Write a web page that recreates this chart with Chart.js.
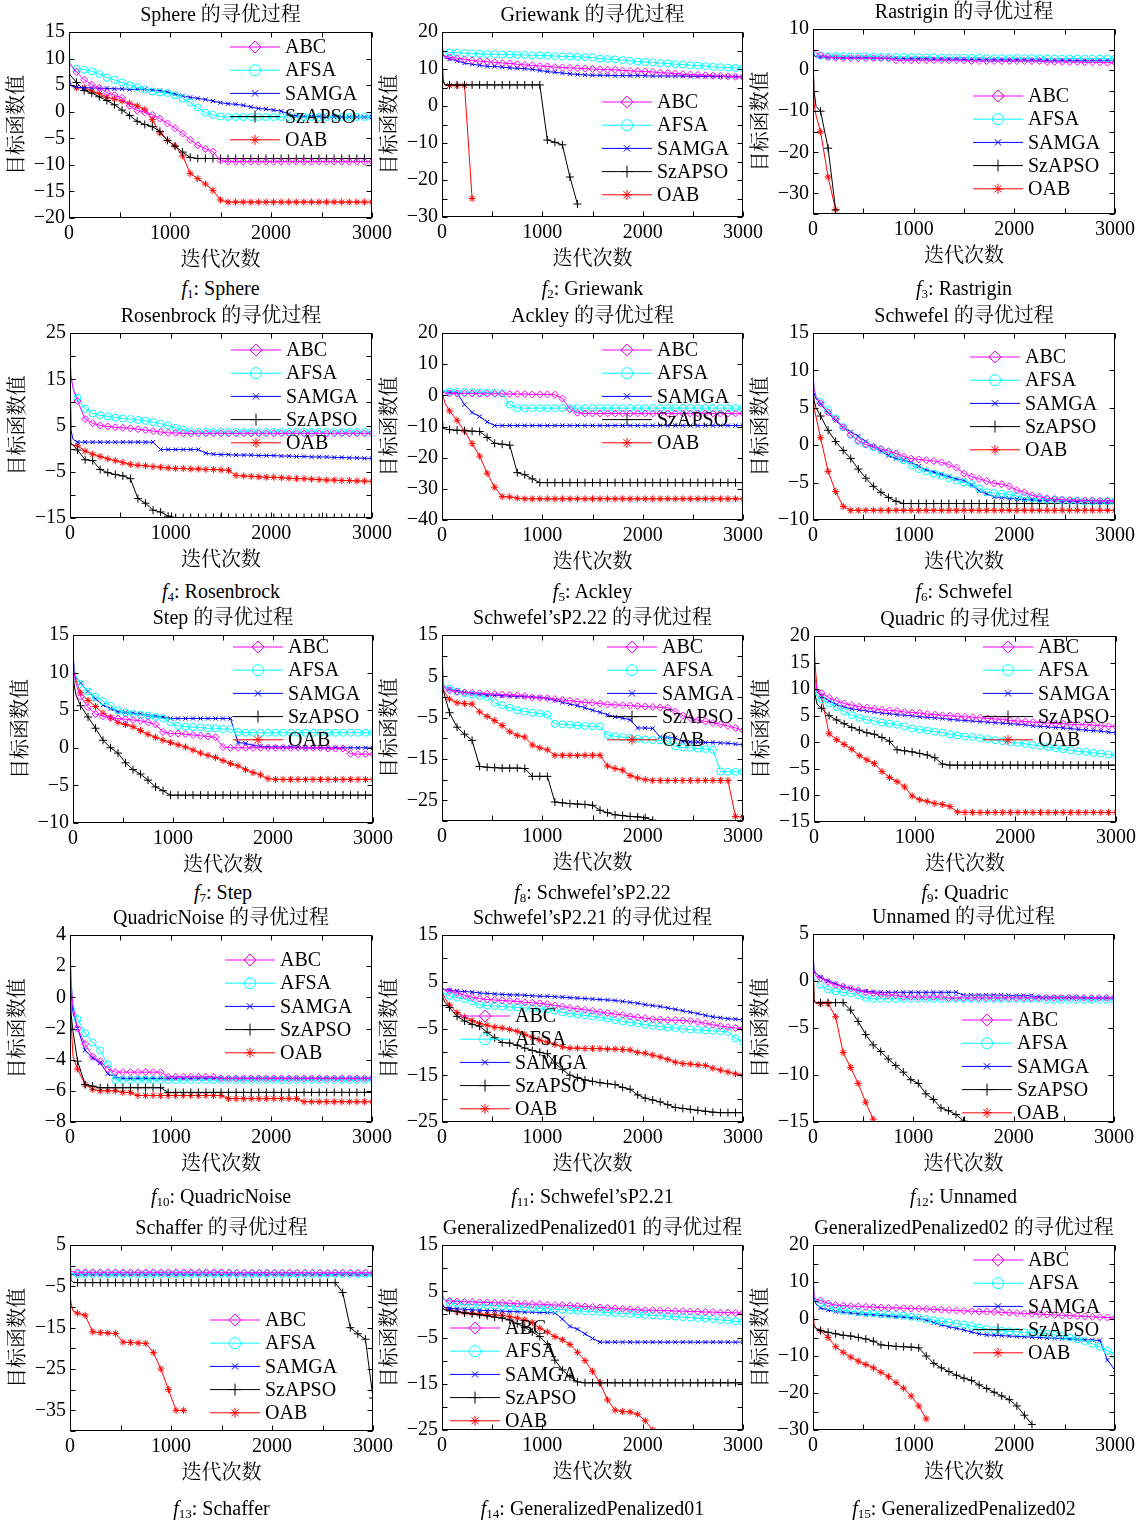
<!DOCTYPE html>
<html lang="zh">
<head>
<meta charset="UTF-8" />
<title>寻优过程</title>
<script src="https://cdn.jsdelivr.net/npm/chart.js"></script>
<style>
  body { margin: 0; background: #fff; }
  #page { position: relative; width: 1144px; height: 1521px; overflow: hidden; background: #fff; }
  canvas { position: absolute; }
  .cap {
    position: absolute; width: 400px; text-align: center;
    font-family: 'Liberation Serif', 'Times New Roman', serif; font-size: 20px; line-height: 24px; color: #000;
  }
  .cap sub { font-size: 13px; vertical-align: -3px; line-height: 0; }
</style>
</head>
<body>
<div id="page"></div>
<script>
// iteration numbers where values were read
const iters = [0, 10, 30,
  75, 150, 225, 300, 375, 450, 525, 600, 675, 750,
  825, 900, 975, 1050, 1125, 1200, 1275, 1350, 1425, 1500,
  1575, 1650, 1725, 1800, 1875, 1950, 2025, 2100, 2175, 2250,
  2325, 2400, 2475, 2550, 2625, 2700, 2775, 2850, 2925, 3000];

const seriesNames = ['ABC', 'AFSA', 'SAMGA', 'SzAPSO', 'OAB'];

// f1 Sphere
const sphABC = [10, 9, 8.5,
  7.5, 6, 5.1, 4.5, 3.6, 3.1, 2.6, 1.1, 0.2, -0.1,
  -0.6, -1.3, -2.2, -3.1, -4.1, -5.3, -6.3, -7.0, -7.5, -9.2,
  -9.4, -9.4, -9.4, -9.4, -9.4, -9.4, -9.4, -9.4, -9.4, -9.4,
  -9.4, -9.4, -9.4, -9.4, -9.4, -9.4, -9.4, -9.4, -9.4, -9.4];
const sphAFSA = [12.8, 9, 8.4,
  8.1, 7.9, 7.6, 7.1, 6.4, 6, 5.5, 5, 4.6, 4.2,
  3.8, 3.6, 3.5, 3.1, 2.5, 1.7, 0.8, -0.2, -0.6, -0.9,
  -1, -1, -1, -1, -1, -1, -1, -1, -1, -1,
  -1, -1, -1, -1, -1, -1, -1, -1, -1, -1];
const sphSAMGA = [8, 5.5, 4.8,
  4.6, 4.5, 4.5, 4.4, 4.4, 4.3, 4.3, 4.2, 4.2, 4.2,
  4.1, 4.0, 3.7, 3.3, 3.0, 2.7, 2.5, 2.3, 2.0, 1.7,
  1.5, 1.4, 1.2, 0.9, 0.6, 0.5, 0.3, 0.1, -0.4, -0.8,
  -0.9, -0.9, -0.9, -1, -1, -1, -1, -1, -1, -1];
const sphSzAPSO = [8, 7, 6.5,
  5.5, 4, 3.5, 2.8, 2.1, 1.3, 0.3, -0.7, -1.8, -2.4,
  -2.8, -3.7, -5.4, -6.5, -7.6, -8.6, -8.8, -8.8, -8.8, -8.8,
  -8.8, -8.8, -8.8, -8.8, -8.8, -8.8, -8.8, -8.8, -8.8, -8.8,
  -8.8, -8.8, -8.8, -8.8, -8.8, -8.8, -8.8, -8.8, -8.8, -8.8];
const sphOAB = [5.5, 5, 4.8,
  4.5, 4.5, 3.9, 3.4, 2.7, 2.4, 2.0, 1.6, 1.1, 0.4,
  -1.5, -4, -5.4, -6.4, -8.3, -11.6, -12.6, -13.6, -14.8, -16.6,
  -17, -17, -17, -17, -17, -17, -17, -17, -17, -17,
  -17, -17, -17, -17, -17, -17, -17, -17, -17, -17];

// f2 Griewank
const grwABC = [15, 14, 13.5,
  13.2, 12.9, 12.6, 12.3, 12.1, 12, 11.8, 11.6, 11.5, 11.3,
  11.1, 11, 10.8, 10.7, 10.5, 10.4, 10.3, 10.2, 10.1, 10,
  9.9, 9.8, 9.8, 9.6, 9.5, 9.4, 9.3, 9.2, 9.0, 8.9,
  8.8, 8.6, 8.5, 8.4, 8.3, 8.2, 8.1, 8.0, 7.9, 7.8];
const grwAFSA = [17, 15, 14.6,
  14.5, 14.4, 14.3, 14.2, 14.1, 14, 14, 13.9, 13.9, 13.8,
  13.8, 13.7, 13.7, 13.6, 13.5, 13.4, 13.4, 13.3, 13.2, 13.1,
  12.8, 12.7, 12.6, 12.4, 12.2, 12.0, 11.9, 11.8, 11.6, 11.5,
  11.3, 11.2, 11.0, 10.9, 10.8, 10.6, 10.5, 10.4, 10.3, 10.2];
const grwSAMGA = [18, 14, 13,
  12.7, 12.2, 11.6, 11.3, 11, 10.7, 10.7, 10.5, 10.3, 10.2,
  10.1, 9.9, 9.6, 9.3, 9.1, 8.9, 8.7, 8.5, 8.4, 8.3,
  8.3, 8.3, 8.2, 8.2, 8.2, 8.2, 8.2, 8.1, 8.1, 8.1,
  8.1, 8.1, 8.0, 8.0, 8.0, 8.0, 8.0, 7.9, 7.9, 7.9];
const grwSzAPSO = [14, 7, 5.7,
  5.7, 5.7, 5.7, 5.7, 5.7, 5.7, 5.7, 5.7, 5.7, 5.7,
  5.7, 5.7, 5.7, -9.2, -9.8, -10.5, -19.2, -26.5, null, null,
  null, null, null, null, null, null, null, null, null, null,
  null, null, null, null, null, null, null, null, null, null];
const grwOAB = [16, 6.5, 5.6,
  5.5, 5.5, 5.5, -25, null, null, null, null, null, null,
  null, null, null, null, null, null, null, null, null, null,
  null, null, null, null, null, null, null, null, null, null,
  null, null, null, null, null, null, null, null, null, null];

// f3 Rastrigin
const rasABC = [5.5, 4.8, 4.3,
  3.6, 3.2, 3.0, 2.9, 2.9, 2.9, 2.9, 2.9, 2.9, 2.9,
  2.4, 2.4, 2.4, 2.4, 2.4, 2.4, 2.4, 2.4, 2.4, 2.4,
  2.2, 2.2, 2.2, 2.2, 2.2, 2.2, 2.2, 2.2, 2.2, 2.2,
  2.0, 2.0, 2.0, 2.0, 2.0, 1.9, 1.9, 1.9, 1.8, 1.8];
const rasAFSA = [5, 4, 3.6,
  3.5, 3.4, 3.4, 3.4, 3.3, 3.3, 3.3, 3.3, 3.2, 3.2,
  3.2, 3.2, 3.1, 3.1, 3.1, 3.1, 3.0, 3.0, 3.0, 3.0,
  3.0, 3.0, 2.9, 2.9, 2.9, 2.9, 2.9, 2.9, 2.9, 2.9,
  2.8, 2.8, 2.8, 2.8, 2.8, 2.8, 2.8, 2.8, 2.8, 2.8];
const rasSAMGA = [6, 3.6, 3.2,
  3.2, 3.1, 3.1, 3.0, 3.0, 3.0, 3.0, 2.9, 2.9, 2.9,
  2.9, 2.8, 2.8, 2.8, 2.8, 2.7, 2.7, 2.7, 2.7, 2.6,
  2.6, 2.6, 2.6, 2.5, 2.5, 2.5, 2.5, 2.5, 2.4, 2.4,
  2.4, 2.4, 2.4, 2.4, 2.3, 2.3, 2.3, 2.3, 2.3, 2.3];
const rasSzAPSO = [5, -5, -8.8,
  -10, -19, -34, null, null, null, null, null, null, null,
  null, null, null, null, null, null, null, null, null, null,
  null, null, null, null, null, null, null, null, null, null,
  null, null, null, null, null, null, null, null, null, null];
const rasOAB = [5, -8, -11,
  -15, -26, -34, null, null, null, null, null, null, null,
  null, null, null, null, null, null, null, null, null, null,
  null, null, null, null, null, null, null, null, null, null,
  null, null, null, null, null, null, null, null, null, null];

// f4 Rosenbrock
const rosABC = [20, 16, 13,
  10.3, 6.4, 5.5, 5.0, 4.8, 4.6, 4.5, 4.4, 4.2, 4.0,
  3.8, 3.6, 3.4, 3.4, 3.3, 3.3, 3.3, 3.3, 3.3, 3.3,
  3.3, 3.3, 3.3, 3.3, 3.3, 3.3, 3.3, 3.3, 3.3, 3.3,
  3.3, 3.3, 3.3, 3.3, 3.3, 3.3, 3.3, 3.3, 3.3, 3.3];
const rosAFSA = [22, 15, 13,
  11, 8.6, 7.6, 7.2, 7.0, 6.7, 6.5, 6.4, 6.2, 6.0,
  5.7, 5.4, 5.0, 4.5, 4.1, 3.7, 3.6, 3.6, 3.6, 3.6,
  3.6, 3.6, 3.6, 3.6, 3.6, 3.6, 3.6, 3.6, 3.6, 3.6,
  3.6, 3.6, 3.6, 3.6, 3.6, 3.6, 3.6, 3.6, 3.6, 3.6];
const rosSAMGA = [18, 4, 2,
  1.4, 1.4, 1.4, 1.4, 1.4, 1.4, 1.4, 1.4, 1.4, 1.4,
  1.4, -0.2, -0.2, -0.2, -0.2, -0.2, -0.2, -1.0, -1.2, -1.3,
  -1.3, -1.4, -1.4, -1.4, -1.5, -1.5, -1.5, -1.6, -1.6, -1.7,
  -1.7, -1.8, -1.8, -1.8, -1.9, -1.9, -2.0, -2.0, -2.1, -2.1];
const rosSzAPSO = [1, 1, 0.8,
  -0.3, -2.4, -2.6, -4.5, -5.2, -5.6, -5.9, -6.5, -10.8, -11.8,
  -13.3, -13.7, -14.6, -14.9, -14.9, -14.9, -14.9, -14.9, -14.9, -14.9,
  -14.9, -14.9, -14.9, -14.9, -14.9, -14.9, -14.9, -14.9, -14.9, -14.9,
  -14.9, -14.9, -14.9, -14.9, -14.9, -14.9, -14.9, -14.9, -14.9, -14.9];
const rosOAB = [20, 1, 0.8,
  0.6, -0.5, -1.2, -1.7, -2.2, -2.6, -3.0, -3.4, -3.6, -3.7,
  -3.9, -4.0, -4.2, -4.3, -4.3, -4.4, -4.4, -4.5, -4.5, -4.6,
  -4.7, -5.8, -5.9, -6.0, -6.1, -6.2, -6.2, -6.3, -6.4, -6.5,
  -6.5, -6.6, -6.7, -6.8, -6.8, -6.9, -6.9, -7.0, -7.0, -7.1];

// f5 Ackley
const ackABC = [2, 1, 0.7,
  0.6, 0.6, 0.6, 0.6, 0.5, 0.5, 0.5, 0.5, 0.4, 0.4,
  0.4, 0.3, 0.3, 0.3, 0.2, -1.0, -4.5, -5.6, -5.8, -5.8,
  -5.8, -5.8, -5.8, -5.8, -5.8, -5.8, -5.8, -5.8, -5.8, -5.8,
  -5.8, -5.8, -5.8, -5.8, -5.8, -5.8, -5.8, -5.8, -5.8, -5.8];
const ackAFSA = [2, 1.5, 1.3,
  1.2, 1.1, 1.0, 1.0, 0.9, 0.9, 0.8, 0.7, -3, -4.1,
  -4.1, -4.1, -4.1, -4.1, -4.1, -4.1, -4.1, -4.1, -4.1, -4.1,
  -4.1, -4.1, -4.1, -4.1, -4.1, -4.1, -4.1, -4.1, -4.1, -4.1,
  -4.1, -4.1, -4.1, -4.1, -4.1, -4.1, -4.1, -4.1, -4.1, -4.1];
const ackSAMGA = [2, 1.5, 1.2,
  1, 0.8, -3.0, -5.5, -6.8, -8.5, -9.7, -9.7, -9.7, -9.7,
  -9.7, -9.7, -9.7, -9.7, -9.7, -9.7, -9.7, -9.7, -9.7, -9.7,
  -9.7, -9.7, -9.7, -9.7, -9.7, -9.7, -9.7, -9.7, -9.7, -9.7,
  -9.7, -9.7, -9.7, -9.7, -9.7, -9.7, -9.7, -9.7, -9.7, -9.7];
const ackSzAPSO = [-5, -10.5, -10.8,
  -11, -11.2, -11.3, -11.5, -11.6, -13.5, -15.4, -15.7, -16, -24.8,
  -25.5, -26.8, -28, -28, -28, -28, -28, -28, -28, -28,
  -28, -28, -28, -28, -28, -28, -28, -28, -28, -28,
  -28, -28, -28, -28, -28, -28, -28, -28, -28, -28];
const ackOAB = [2, 0, -2.5,
  -5, -8, -11.5, -15.5, -19.5, -25, -29.5, -32.5, -32.6, -33,
  -33.2, -33.2, -33.2, -33.2, -33.2, -33.2, -33.2, -33.2, -33.2, -33.2,
  -33.2, -33.2, -33.2, -33.2, -33.2, -33.2, -33.2, -33.2, -33.2, -33.2,
  -33.2, -33.2, -33.2, -33.2, -33.2, -33.2, -33.2, -33.2, -33.2, -33.2];

// f6 Schwefel
const schABC = [10, 7.5, 6.5,
  5.6, 4.4, 3.5, 2.4, 1.4, 0.6, 0.1, -0.2, -0.5, -0.8,
  -1.1, -1.5, -1.8, -1.9, -2.0, -2.1, -2.3, -2.6, -3.0, -3.8,
  -4.2, -4.5, -4.8, -5.1, -5.2, -5.5, -6.0, -6.3, -6.7, -6.9,
  -7.1, -7.2, -7.3, -7.35, -7.4, -7.4, -7.4, -7.45, -7.45, -7.45];
const schAFSA = [10, 7.5, 6.5,
  5.8, 4.7, 3.6, 2.4, 1.4, 0.6, 0.1, -0.3, -0.6, -1.0,
  -1.5, -2.0, -2.7, -3.2, -3.5, -3.8, -4.1, -4.4, -4.7, -5.0,
  -5.2, -5.8, -6.3, -6.4, -6.5, -6.6, -6.8, -7.0, -7.1, -7.2,
  -7.3, -7.3, -7.4, -7.4, -7.4, -7.5, -7.5, -7.5, -7.5, -7.5];
const schSAMGA = [10, 7, 6.2,
  5.5, 4.3, 3.3, 2.4, 1.8, 1.2, 0.5, -0.2, -0.8, -1.4,
  -1.8, -2.0, -2.3, -2.8, -3.3, -3.6, -3.9, -4.2, -4.5, -4.7,
  -5.3, -6.1, -6.5, -6.9, -7.0, -7.1, -7.2, -7.3, -7.3, -7.4,
  -7.4, -7.4, -7.5, -7.5, -7.5, -7.5, -7.6, -7.6, -7.6, -7.6];
const schSzAPSO = [8, 6, 5,
  3.9, 2.0, 0.5, -0.7, -1.8, -3.2, -4.4, -5.5, -6.3, -7.0,
  -7.5, -7.8, -7.8, -7.8, -7.8, -7.8, -7.8, -7.8, -7.8, -7.8,
  -7.8, -7.8, -7.8, -7.8, -7.8, -7.8, -7.8, -7.8, -7.8, -7.8,
  -7.8, -7.8, -7.8, -7.8, -7.8, -7.8, -7.8, -7.8, -7.8, -7.8];
const schOAB = [10, 5, 3.8,
  1, -3.5, -6.2, -8.2, -8.7, -8.7, -8.7, -8.7, -8.7, -8.7,
  -8.7, -8.7, -8.7, -8.7, -8.7, -8.7, -8.7, -8.7, -8.7, -8.7,
  -8.7, -8.7, -8.7, -8.7, -8.7, -8.7, -8.7, -8.7, -8.7, -8.7,
  -8.7, -8.7, -8.7, -8.7, -8.7, -8.7, -8.7, -8.7, -8.7, -8.7];

// f7 Step
const stpABC = [13, 10, 8.5,
  6.8, 5.4, 4.5, 4.2, 4.0, 3.9, 3.8, 3.7, 3.6, 3.4,
  3.1, 2.1, 1.9, 1.9, 1.8, 1.7, 1.6, 1.5, 1.4, 0.1,
  0, 0, 0, 0, 0, 0, 0, 0, 0, 0,
  0, 0, 0, -0.1, -0.1, -0.1, -0.8, -0.85, -0.85, -0.85];
const stpAFSA = [13, 10.5, 9.5,
  8.5, 7.5, 6.8, 6.2, 5.6, 5.0, 4.7, 4.5, 4.4, 4.3,
  4.1, 3.9, 3.4, 2.9, 2.8, 2.75, 2.7, 2.6, 2.6, 2.5,
  2.5, 2.1, 2.0, 2.0, 2.0, 2.0, 2.0, 2.0, 2.0, 2.0,
  2.0, 2.0, 2.0, 2.0, 2.0, 2.0, 2.0, 2.0, 2.0, 2.0];
const stpSAMGA = [13, 10.5, 9.3,
  8.6, 7.5, 6.5, 5.7, 5.2, 4.8, 4.7, 4.6, 4.5, 4.3,
  4.2, 4.1, 3.9, 3.9, 3.9, 3.9, 3.9, 3.9, 3.9, 3.9,
  3.9, 0.7, 0.6, 0.3, 0.2, 0.1, 0.1, 0.1, 0.1, 0.1,
  0, 0, 0, 0, 0, 0, 0, 0, 0, 0];
const stpSzAPSO = [11, 8.5, 7,
  5.6, 4.1, 2.6, 1.0, 0, -0.7, -2.0, -2.9, -3.5, -4.3,
  -5.2, -5.7, -6.3, -6.3, -6.3, -6.3, -6.3, -6.3, -6.3, -6.3,
  -6.3, -6.3, -6.3, -6.3, -6.3, -6.3, -6.3, -6.3, -6.3, -6.3,
  -6.3, -6.3, -6.3, -6.3, -6.3, -6.3, -6.3, -6.3, -6.3, -6.3];
const stpOAB = [13, 10, 9,
  7.3, 6.3, 5.5, 4.6, 4.0, 3.4, 3.1, 2.8, 2.3, 1.8,
  1.4, 1.0, 0.7, 0.4, 0.1, -0.3, -0.7, -1.0, -1.3, -1.7,
  -2.1, -2.4, -2.9, -3.3, -3.6, -4.1, -4.2, -4.2, -4.2, -4.2,
  -4.2, -4.2, -4.2, -4.2, -4.2, -4.2, -4.2, -4.2, -4.2, -4.2];

// f8 Schwefel's P2.22
const s22ABC = [15, 3, 2,
  1.6, 1.3, 1.1, 1.0, 0.9, 0.8, 0.7, 0.6, 0.5, 0.4,
  0.2, -0.1, -0.2, -0.3, -0.5, -0.7, -0.9, -1.1, -1.3, -1.4,
  -1.6, -1.8, -1.9, -2.0, -2.1, -2.2, -2.3, -2.4, -2.5, -2.6,
  -3.5, -4.5, -5.1, -5.6, -5.9, -6.3, -6.6, -7.0, -7.5, -8.1];
const s22AFSA = [12, 3, 2.5,
  2.0, 1.3, 0.9, 0.6, 0.3, 0, -1.4, -2.0, -2.6, -3.2,
  -3.5, -3.8, -4.0, -4.3, -6.5, -6.6, -6.7, -6.9, -7.0, -7.1,
  -7.1, -9.2, -9.5, -9.7, -9.9, -10.1, -10.3, -10.4, -10.5, -10.6,
  -12.0, -12.2, -12.3, -12.5, -12.6, -12.8, -18.0, -18.1, -18.1, -18.1];
const s22SAMGA = [13, 3, 2.5,
  2.0, 1.5, 1.1, 0.9, 0.7, 0.5, 0.4, 0.3, 0.2, 0.1,
  0.1, 0, -0.1, -0.3, -0.8, -1.3, -1.7, -2.1, -2.6, -3.2,
  -3.7, -4.3, -4.8, -5.1, -5.5, -7.5, -7.5, -7.6, -9.7, -9.8,
  -9.9, -10.8, -10.9, -10.9, -11, -11, -11.1, -11.2, -11.4, -11.5];
const s22SzAPSO = [5, 2, 0,
  -3.8, -7.3, -9, -10.5, -16.8, -17, -17.1, -17.2, -17.2, -17.2,
  -17.3, -19.2, -19.2, -19.2, -25.4, -25.6, -25.8, -25.9, -26, -26.2,
  -27.4, -28, -28.5, -28.7, -28.9, -29.0, -29.2, -29.8, null, null,
  null, null, null, null, null, null, null, null, null, null];
const s22OAB = [10, 2, 1,
  -0.5, -1.4, -1.6, -1.7, -3.6, -4.7, -5.7, -6.9, -8.4, -9.3,
  -9.7, -11.6, -12.3, -12.8, -14.1, -14.1, -14.1, -14.1, -14.1, -14.1,
  -14.1, -16.7, -17.3, -17.7, -19.0, -19.6, -20.0, -20.2, -20.2, -20.2,
  -20.2, -20.2, -20.2, -20.2, -20.2, -20.2, -20.2, -20.2, -28.9, -29];

// f9 Quadric
const quaABC = [20, 12, 10,
  9.3, 8.4, 7.8, 7.3, 7.0, 6.7, 6.5, 6.3, 6.1, 6.0,
  5.9, 5.7, 5.6, 5.5, 5.3, 5.2, 5.1, 5.0, 4.9, 4.8,
  4.7, 4.6, 4.5, 4.4, 4.3, 4.1, 4.0, 3.9, 3.8, 3.7,
  3.6, 3.5, 3.5, 3.4, 3.3, 3.3, 3.2, 3.1, 3.0, 3.0];
const quaAFSA = [16, 10, 8.6,
  8.1, 7.3, 6.6, 5.8, 5.1, 4.6, 4.2, 4.0, 3.7, 3.5,
  3.3, 3.0, 2.6, 2.4, 2.2, 2.0, 1.8, 1.5, 1.3, 1.1,
  1.0, 0.8, 0.6, 0.4, 0.2, 0.0, -0.1, -0.3, -0.5, -0.7,
  -0.9, -1.1, -1.3, -1.5, -1.7, -1.8, -2.0, -2.1, -2.3, -2.4];
const quaSAMGA = [14, 10, 9.5,
  8.7, 7.8, 7.1, 6.6, 6.3, 6.1, 5.9, 5.7, 5.5, 5.4,
  5.2, 5.1, 5.0, 4.8, 4.7, 4.6, 4.5, 4.3, 4.2, 4.1,
  4.0, 3.9, 3.8, 3.7, 3.6, 3.5, 3.4, 3.3, 3.1, 3.0,
  2.9, 2.8, 2.7, 2.6, 2.4, 2.3, 2.2, 2.1, 1.9, 1.8];
const quaSzAPSO = [14, 9, 7.2,
  6.4, 5.0, 4.2, 3.5, 2.8, 2.3, 1.8, 1.5, 0.9, 0.2,
  -1.4, -1.6, -1.8, -2.1, -2.4, -2.9, -4.1, -4.3, -4.3, -4.3,
  -4.3, -4.3, -4.3, -4.3, -4.3, -4.3, -4.3, -4.3, -4.3, -4.3,
  -4.3, -4.3, -4.3, -4.3, -4.3, -4.3, -4.3, -4.3, -4.3, -4.3];
const quaOAB = [20, 15, 10,
  8.5, 1.6, 0.5, -0.4, -1.3, -2.5, -3.3, -4.0, -5.5, -6.6,
  -7.4, -8.4, -10.1, -10.8, -11.1, -11.5, -11.7, -12.1, -13.1, -13.2,
  -13.2, -13.2, -13.2, -13.2, -13.2, -13.2, -13.2, -13.2, -13.2, -13.2,
  -13.2, -13.2, -13.2, -13.2, -13.2, -13.2, -13.2, -13.2, -13.2, -13.2];

// f10 QuadricNoise
const qnoABC = [3, 1, -0.6,
  -2.0, -3.0, -3.8, -4.1, -4.6, -4.8, -4.8, -4.8, -4.8, -4.8,
  -4.8, -4.8, -5.1, -5.1, -5.1, -5.1, -5.1, -5.1, -5.1, -5.2,
  -5.2, -5.2, -5.2, -5.2, -5.2, -5.2, -5.2, -5.2, -5.2, -5.2,
  -5.2, -5.2, -5.2, -5.2, -5.2, -5.2, -5.2, -5.2, -5.2, -5.2];
const qnoAFSA = [3, 1.2, -0.5,
  -1.4, -2.3, -2.9, -3.4, -4.3, -5.3, -5.3, -5.3, -5.3, -5.3,
  -5.3, -5.3, -5.3, -5.3, -5.3, -5.3, -5.3, -5.3, -5.3, -5.3,
  -5.3, -5.3, -5.3, -5.3, -5.3, -5.3, -5.3, -5.3, -5.3, -5.3,
  -5.3, -5.3, -5.3, -5.3, -5.3, -5.3, -5.3, -5.3, -5.3, -5.3];
const qnoSAMGA = [4, 0.5, -1.0,
  -2.0, -3.4, -3.9, -4.2, -4.9, -5.1, -5.2, -5.2, -5.2, -5.2,
  -5.2, -5.2, -5.2, -5.2, -5.2, -5.2, -5.2, -5.2, -5.2, -5.2,
  -5.2, -5.2, -5.2, -5.2, -5.2, -5.2, -5.2, -5.2, -5.2, -5.2,
  -5.2, -5.2, -5.2, -5.2, -5.2, -5.2, -5.2, -5.2, -5.2, -5.2];
const qnoSzAPSO = [1, -1, -2.2,
  -4.1, -5.6, -5.7, -5.8, -5.8, -5.8, -5.8, -5.8, -5.8, -5.8,
  -5.8, -5.8, -6.1, -6.1, -6.1, -6.1, -6.1, -6.1, -6.1, -6.1,
  -6.1, -6.1, -6.1, -6.1, -6.1, -6.1, -6.1, -6.1, -6.1, -6.1,
  -6.1, -6.1, -6.1, -6.1, -6.1, -6.1, -6.1, -6.1, -6.1, -6.1];
const qnoOAB = [4, -1.5, -3.8,
  -4.6, -5.6, -5.9, -6.0, -6.0, -6.0, -6.1, -6.1, -6.3, -6.3,
  -6.3, -6.3, -6.3, -6.3, -6.3, -6.3, -6.3, -6.3, -6.3, -6.3,
  -6.5, -6.5, -6.5, -6.5, -6.5, -6.5, -6.5, -6.5, -6.5, -6.5,
  -6.7, -6.7, -6.7, -6.7, -6.7, -6.7, -6.7, -6.7, -6.7, -6.7];

// f11 Schwefel's P2.21
const s21ABC = [4, 3.5, 3.2,
  3.0, 2.6, 2.1, 1.7, 1.4, 1.2, 1.1, 1.0, 0.9, 0.8,
  0.6, 0.5, 0.4, 0.2, -0.1, -0.3, -0.6, -0.8, -1.0, -1.2,
  -1.5, -1.7, -1.9, -2.1, -2.4, -2.6, -2.8, -3.0, -3.1, -3.2,
  -3.2, -3.3, -3.4, -3.6, -3.9, -4.2, -4.5, -4.7, -4.9, -5.0];
const s21AFSA = [4, 3, 2.3,
  2.0, 1.6, 1.3, 0.8, 0.1, -0.1, -0.2, -0.3, -0.4, -0.5,
  -0.6, -0.7, -0.8, -0.9, -1.2, -1.5, -1.8, -2.0, -2.2, -2.4,
  -2.6, -2.9, -3.2, -3.5, -3.7, -3.9, -4.2, -4.4, -4.6, -4.8,
  -4.9, -5.1, -5.2, -5.3, -5.4, -5.5, -5.6, -5.7, -7.1, -7.9];
const s21SAMGA = [4, 3.5, 3.3,
  3.2, 3.0, 2.9, 2.8, 2.6, 2.5, 2.4, 2.3, 2.2, 2.2,
  2.1, 2.0, 1.9, 1.9, 1.8, 1.7, 1.6, 1.5, 1.4, 1.3,
  1.2, 1.1, 1.0, 0.8, 0.6, 0.4, 0.1, -0.1, -0.3, -0.6,
  -0.9, -1.2, -1.5, -1.8, -2.2, -2.5, -2.7, -2.9, -3.0, -3.2];
const s21SzAPSO = [3, 1.5, 0.6,
  -0.5, -2.4, -3.4, -4.1, -4.5, -5.8, -7.0, -8.0, -8.1, -8.6,
  -9.2, -9.7, -10.1, -10.4, -12.4, -13.8, -15.0, -15.5, -16.0, -16.3,
  -16.6, -16.8, -17.0, -17.6, -18.0, -19.2, -19.9, -20.3, -20.7, -21.3,
  -21.9, -22.1, -22.3, -22.5, -22.7, -22.9, -23.0, -23.0, -23.0, -23.0];
const s21OAB = [3.5, 2.5, 1.5,
  0, -1.6, -2.6, -3.3, -3.9, -4.3, -4.7, -4.9, -5.2, -5.6,
  -6.3, -6.9, -7.5, -7.9, -8.4, -8.9, -9.2, -9.2, -9.3, -9.3,
  -9.3, -9.4, -9.4, -9.5, -9.6, -10.1, -10.3, -10.7, -11.1, -11.6,
  -12.2, -12.5, -12.6, -12.8, -12.9, -13.5, -13.9, -14.3, -14.7, -14.9];

// f12 Unnamed
const unnABC = [1.5, 1.0, 0.5,
  0.3, -0.1, -0.4, -0.6, -0.8, -1.0, -1.2, -1.3, -1.4, -1.5,
  -1.5, -1.7, -1.7, -1.7, -1.7, -1.7, -1.7, -1.8, -1.8, -1.8,
  -1.8, -1.8, -1.8, -1.8, -1.8, -1.8, -1.8, -1.8, -1.8, -1.8,
  -1.8, -1.8, -1.8, -1.8, -1.8, -1.8, -1.8, -1.8, -1.8, -1.8];
const unnAFSA = [1, 0.3, 0,
  -0.4, -0.9, -1.1, -1.2, -1.3, -1.5, -1.8, -1.9, -1.9, -1.9,
  -1.9, -1.9, -1.9, -1.9, -1.9, -1.9, -1.9, -1.9, -1.9, -1.9,
  -1.9, -1.9, -1.9, -1.9, -1.9, -1.9, -1.9, -1.9, -1.9, -1.9,
  -2.0, -2.0, -2.0, -2.0, -2.0, -2.0, -2.0, -2.0, -2.0, -2.0];
const unnSAMGA = [3.5, 1.2, 0.8,
  0.4, 0, -0.3, -0.6, -0.8, -1.0, -1.1, -1.15, -1.2, -1.2,
  -1.2, -1.2, -1.2, -1.2, -1.2, -1.2, -1.2, -1.2, -1.2, -1.5,
  -1.5, -1.5, -1.5, -1.5, -1.5, -1.55, -1.55, -1.55, -1.55, -1.7,
  -1.7, -1.7, -1.7, -1.7, -1.7, -1.8, -1.8, -1.8, -1.8, -1.8];
const unnSzAPSO = [3, -2.0, -2.3,
  -2.3, -2.3, -2.3, -2.3, -3.1, -4.3, -5.7, -6.8, -7.5, -8.3,
  -9.0, -9.7, -10.5, -10.9, -12.0, -12.6, -13.5, -13.8, -14.2, -14.9,
  null, null, null, null, null, null, null, null, null, null,
  null, null, null, null, null, null, null, null, null, null];
const unnOAB = [5, -2.2, -2.4,
  -2.4, -2.4, -3.8, -7.6, -9.2, -10.9, -12.9, -14.7, null, null,
  null, null, null, null, null, null, null, null, null, null,
  null, null, null, null, null, null, null, null, null, null,
  null, null, null, null, null, null, null, null, null, null];

// f13 Schaffer
const sfrABC = [-0.5, -1.3, -1.5,
  -1.6, -1.6, -1.6, -1.6, -1.6, -1.6, -1.6, -1.6, -1.6, -1.6,
  -1.6, -1.6, -1.6, -1.6, -1.6, -1.6, -1.6, -1.6, -1.6, -1.6,
  -1.7, -1.7, -1.7, -1.7, -1.7, -1.7, -1.7, -1.7, -1.7, -1.7,
  -1.7, -1.7, -1.7, -1.7, -1.7, -1.7, -1.7, -1.7, -1.7, -1.7];
const sfrAFSA = [-1, -1.8, -1.9,
  -2.0, -2.0, -2.0, -2.0, -2.0, -2.0, -2.0, -2.0, -2.0, -2.0,
  -2.0, -2.0, -2.0, -2.0, -2.0, -2.0, -2.0, -2.0, -2.0, -2.0,
  -2.0, -2.0, -2.0, -2.0, -2.0, -2.0, -2.0, -2.0, -2.0, -2.0,
  -2.0, -2.0, -2.0, -2.0, -2.0, -2.0, -2.0, -2.0, -2.0, -2.0];
const sfrSAMGA = [-1.5, -2.1, -2.2,
  -2.2, -2.2, -2.2, -2.2, -2.2, -2.2, -2.2, -2.2, -2.2, -2.2,
  -2.2, -2.2, -2.2, -2.2, -2.2, -2.2, -2.2, -2.2, -2.2, -2.2,
  -2.2, -2.2, -2.2, -2.2, -2.2, -2.2, -2.2, -2.2, -2.2, -2.2,
  -2.2, -2.2, -2.2, -2.2, -2.2, -2.2, -2.2, -2.2, -2.2, -2.2];
const sfrSzAPSO = [3, -3.5, -4.0,
  -4.1, -4.1, -4.1, -4.1, -4.1, -4.1, -4.1, -4.1, -4.1, -4.1,
  -4.1, -4.1, -4.1, -4.1, -4.1, -4.1, -4.1, -4.1, -4.1, -4.1,
  -4.1, -4.1, -4.1, -4.1, -4.1, -4.1, -4.1, -4.1, -4.1, -4.1,
  -4.1, -4.1, -4.1, -4.1, -4.1, -6.5, -15, -16.5, -17.8, -32];
const sfrOAB = [-6.5, -9, -11,
  -11.5, -12, -16, -16.2, -16.3, -16.4, -18.5, -18.6, -18.7, -18.8,
  -21, -25, -30, -35, -35, null, null, null, null, null,
  null, null, null, null, null, null, null, null, null, null,
  null, null, null, null, null, null, null, null, null, null];

// f14 GeneralizedPenalized01
const gp1ABC = [5, 3.5, 3.0,
  2.9, 2.8, 2.7, 2.7, 2.6, 2.6, 2.5, 2.5, 2.4, 2.3,
  2.3, 2.2, 2.2, 2.1, 2.0, 2.0, 1.9, 1.8, 1.7, 1.6,
  1.5, 1.4, 1.3, 1.2, 1.1, 1.0, 0.9, 0.9, 0.8, 0.8,
  0.7, 0.7, 0.6, 0.6, 0.5, 0.5, 0.4, 0.4, 0.3, 0.3];
const gp1AFSA = [15, 4, 3,
  2.5, 2.3, 2.2, 2.1, 2.0, 2.0, 1.9, 1.8, 1.7, 1.6,
  1.5, 1.4, 1.3, 1.2, 1.1, 1.0, 0.9, 0.8, 0.7, 0.6,
  0.5, 0.4, 0.3, 0.2, 0.1, 0.0, -0.1, -0.2, -0.3, -0.4,
  -0.5, -0.6, -0.7, -0.8, -0.9, -1.0, -1.2, -1.3, -1.5, -1.6];
const gp1SAMGA = [3, 1.8, 1.5,
  1.3, 1.2, 1.1, 1.0, 0.9, 0.8, 0.8, 0.7, 0.6, 0.6,
  0.5, 0.5, 0.4, 0.4, 0.3, -1.0, -2.6, -3.2, -4.2, -5.2,
  -6.0, -6.0, -6.0, -6.0, -6.0, -6.0, -6.0, -6.0, -6.0, -6.0,
  -6.0, -6.0, -6.0, -6.0, -6.0, -6.0, -6.0, -6.0, -6.0, -6.0];
const gp1SzAPSO = [2, 1.2, 1.0,
  0.8, 0.6, 0.3, 0.1, -0.1, -0.3, -0.6, -0.8, -1.2, -2.0,
  -2.8, -3.8, -4.8, -6.5, -9.9, -12, -13.5, -14.6, -14.8, -14.8,
  -14.8, -14.8, -14.8, -14.8, -14.8, -14.8, -14.8, -14.8, -14.8, -14.8,
  -14.8, -14.8, -14.8, -14.8, -14.8, -14.8, -14.8, -14.8, -14.8, -14.8];
const gp1OAB = [3, 1.8, 1.4,
  1.0, 0.6, 0.3, 0.3, 0.1, 0.0, -0.1, -0.2, -0.5, -0.8,
  -1.2, -1.8, -3.0, -3.8, -4.8, -5.5, -6.5, -8.2, -10, -12.3,
  -14.8, -18.5, -20.7, -21.0, -21.1, -21.6, -23.0, -25, null, null,
  null, null, null, null, null, null, null, null, null, null];

// f15 GeneralizedPenalized02
const gp2ABC = [10, 6, 5.3,
  5.0, 4.2, 3.8, 3.6, 3.5, 3.4, 3.3, 3.2, 3.1, 3.0,
  3.0, 2.9, 2.8, 2.8, 2.7, 2.6, 2.5, 2.4, 2.3, 2.2,
  2.1, 2.0, 2.0, 1.9, 1.8, 1.7, 1.6, 1.5, 1.4, 1.3,
  1.2, 1.1, 1.0, 0.9, 0.8, 0.7, 0.6, 0.5, 0.4, 0.3];
const gp2AFSA = [8, 5, 4.6,
  4.3, 3.5, 2.8, 2.4, 2.1, 1.9, 1.7, 1.5, 1.3, 1.2,
  1.1, 0.9, 0.6, 0.3, 0, -0.3, -0.6, -0.9, -1.2, -1.5,
  -1.9, -2.3, -2.7, -3.0, -3.2, -3.3, -3.5, -3.6, -3.7, -3.8,
  -4.0, -4.3, -4.6, -5.0, -5.5, -6.0, -6.7, -7.5, -8.6, -9.7];
const gp2SAMGA = [15, 6, 4,
  3.0, 2.4, 2.0, 1.8, 1.6, 1.4, 1.2, 1.1, 1.0, 0.8,
  0.6, 0.5, 0.3, 0.2, -0.3, -1.0, -1.6, -2.1, -2.5, -3.0,
  -3.5, -4.0, -4.3, -4.4, -4.5, -4.6, -4.7, -4.8, -4.9, -5.0,
  -5.1, -5.2, -5.3, -5.4, -5.5, -5.6, -5.7, -5.8, -11.1, -13.8];
const gp2SzAPSO = [0, -2, -2.6,
  -3.1, -3.6, -4.0, -4.4, -4.6, -5.0, -5.4, -6.0, -7.0, -7.2,
  -7.4, -7.5, -7.6, -7.8, -10.0, -12.0, -13.2, -14.2, -15.2, -16.0,
  -16.6, -17.8, -18.8, -19.8, -20.8, -21.8, -23.5, -26.0, -28.5, null,
  null, null, null, null, null, null, null, null, null, null];
const gp2OAB = [5, -1.5, -2.5,
  -3.2, -5.0, -7.5, -9.0, -10.3, -11.4, -12.3, -13.2, -14.4, -15.6,
  -17.2, -18.7, -20.8, -23.5, -27, null, null, null, null, null,
  null, null, null, null, null, null, null, null, null, null,
  null, null, null, null, null, null, null, null, null, null];

const funcNames = ['Sphere', 'Griewank', 'Rastrigin', 'Rosenbrock', 'Ackley', 'Schwefel', 'Step',
  'Schwefel\u2019sP2.22', 'Quadric', 'QuadricNoise', 'Schwefel\u2019sP2.21', 'Unnamed', 'Schaffer',
  'GeneralizedPenalized01', 'GeneralizedPenalized02'];

const panelSeries = [
  [sphABC, sphAFSA, sphSAMGA, sphSzAPSO, sphOAB],
  [grwABC, grwAFSA, grwSAMGA, grwSzAPSO, grwOAB],
  [rasABC, rasAFSA, rasSAMGA, rasSzAPSO, rasOAB],
  [rosABC, rosAFSA, rosSAMGA, rosSzAPSO, rosOAB],
  [ackABC, ackAFSA, ackSAMGA, ackSzAPSO, ackOAB],
  [schABC, schAFSA, schSAMGA, schSzAPSO, schOAB],
  [stpABC, stpAFSA, stpSAMGA, stpSzAPSO, stpOAB],
  [s22ABC, s22AFSA, s22SAMGA, s22SzAPSO, s22OAB],
  [quaABC, quaAFSA, quaSAMGA, quaSzAPSO, quaOAB],
  [qnoABC, qnoAFSA, qnoSAMGA, qnoSzAPSO, qnoOAB],
  [s21ABC, s21AFSA, s21SAMGA, s21SzAPSO, s21OAB],
  [unnABC, unnAFSA, unnSAMGA, unnSzAPSO, unnOAB],
  [sfrABC, sfrAFSA, sfrSAMGA, sfrSzAPSO, sfrOAB],
  [gp1ABC, gp1AFSA, gp1SAMGA, gp1SzAPSO, gp1OAB],
  [gp2ABC, gp2AFSA, gp2SAMGA, gp2SzAPSO, gp2OAB]
];

// y axis ranges and labelled ticks
const yMins = [-20, -30, -35, -15, -40, -10, -10, -30, -15, -8, -25, -15, -40, -25, -30];
const yMaxs = [15, 20, 10, 25, 20, 15, 15, 15, 20, 4, 15, 5, 5, 15, 20];
const yTickLabels = [
  [15, 10, 5, 0, -5, -10, -15, -20],
  [20, 10, 0, -10, -20, -30],
  [10, 0, -10, -20, -30],
  [25, 15, 5, -5, -15],
  [20, 10, 0, -10, -20, -30, -40],
  [15, 10, 5, 0, -5, -10],
  [15, 10, 5, 0, -5, -10],
  [15, 5, -5, -15, -25],
  [20, 15, 10, 5, 0, -5, -10, -15],
  [4, 2, 0, -2, -4, -6, -8],
  [15, 5, -5, -15, -25],
  [5, 0, -5, -10, -15],
  [5, -5, -15, -25, -35],
  [15, 5, -5, -15, -25],
  [20, 10, 0, -10, -20, -30]
];
const xTickLabels = [0, 1000, 2000, 3000];

// ---- layout & style (not data) ----
const yTickStep = [5, 5, 5, 5, 10, 5, 5, 5, 5, 2, 5, 5, 5, 5, 5];
// plot box: left, top, right, bottom, caption centre y
const plotBoxes = [
  [69, 32, 372, 218, 288], [442, 32, 743, 217, 288], [813, 29, 1115, 214, 288],
  [70, 333, 372, 518, 591], [442, 333, 743, 520, 591], [813, 333, 1115, 520, 591],
  [73, 635, 373, 823, 892], [442, 635, 743, 821, 892], [814, 636, 1116, 822, 892],
  [70, 935, 372, 1122, 1196], [442, 935, 743, 1122, 1196], [813, 934, 1114, 1122, 1196],
  [70, 1245, 373, 1431, 1508], [442, 1245, 743, 1430, 1508], [813, 1245, 1115, 1430, 1508]
];
// legend first-row offset from the plot's top-left corner
const legendOffsets = [
  [161, 15], [160, 70], [160, 67],
  [161, 17], [160, 17], [157, 24],
  [160, 12], [165, 12], [169, 11],
  [155, 25], [18, 81], [149, 86],
  [140, 75], [8, 83], [160, 15]
];
const colors = ['#ff00ff', '#00ffff', '#0000ff', '#000000', '#ff0000'];
const marks = ['rectRot', 'circle', 'crossRot', 'cross', 'star'];
const markSize = [3.5, 3.5, 3, 4, 3.5];
const legendMarkSize = [6, 5.5, 4.5, 6, 5];
const FONT = "'Liberation Serif', 'Times New Roman', 'Noto Serif CJK SC', 'Noto Sans CJK SC', serif";
const Y_AXIS_W = 69, TITLE_H = 31, X_AXIS_H = 55, RIGHT_PAD = 26;

function fmt(v) { return v < 0 ? '\u2212' + Math.abs(v) : String(v); }

function drawMark(ctx, style, x, y, r) {
  ctx.beginPath();
  if (style === 'rectRot') {
    ctx.moveTo(x, y - r); ctx.lineTo(x + r, y); ctx.lineTo(x, y + r); ctx.lineTo(x - r, y); ctx.closePath();
  } else if (style === 'circle') {
    ctx.arc(x, y, r, 0, Math.PI * 2);
  } else {
    const d = r * Math.SQRT1_2;
    if (style === 'cross' || style === 'star') {
      ctx.moveTo(x - r, y); ctx.lineTo(x + r, y); ctx.moveTo(x, y - r); ctx.lineTo(x, y + r);
    }
    if (style === 'crossRot' || style === 'star') {
      ctx.moveTo(x - d, y - d); ctx.lineTo(x + d, y + d); ctx.moveTo(x + d, y - d); ctx.lineTo(x - d, y + d);
    }
  }
  ctx.stroke();
}

const framePlugin = {
  id: 'frame',
  afterDatasetsDraw(chart) {
    const {ctx, chartArea: a, scales} = chart;
    const L = Math.round(a.left) + 0.5, R = Math.round(a.right) - 0.5;
    const T = Math.round(a.top) + 0.5, B = Math.round(a.bottom) - 0.5;
    ctx.save();
    ctx.strokeStyle = '#000';
    ctx.lineWidth = 1;
    ctx.strokeRect(L, T, R - L, B - T);
    ctx.beginPath();
    scales.y.ticks.forEach(t => {
      const py = Math.round(scales.y.getPixelForValue(t.value)) + 0.5;
      ctx.moveTo(L, py); ctx.lineTo(L + 5, py);
      ctx.moveTo(R, py); ctx.lineTo(R - 5, py);
    });
    scales.x.ticks.forEach(t => {
      const px = Math.round(scales.x.getPixelForValue(t.value)) + 0.5;
      ctx.moveTo(px, B); ctx.lineTo(px, B - 5);
      ctx.moveTo(px, T); ctx.lineTo(px, T + 5);
    });
    ctx.stroke();
    ctx.restore();
  }
};

const legendPlugin = {
  id: 'mlegend',
  afterDraw(chart, args, opts) {
    const {ctx, chartArea: a} = chart;
    ctx.save();
    ctx.font = '20px ' + FONT;
    ctx.textBaseline = 'middle';
    ctx.textAlign = 'left';
    chart.data.datasets.forEach((ds, k) => {
      const x0 = a.left + opts.dx, y = a.top + opts.dy + k * 23.2;
      ctx.strokeStyle = ds.borderColor;
      ctx.lineWidth = 1;
      ctx.beginPath(); ctx.moveTo(x0, y); ctx.lineTo(x0 + 50, y); ctx.stroke();
      drawMark(ctx, marks[k], x0 + 25, y, legendMarkSize[k]);
      ctx.fillStyle = '#000';
      ctx.fillText(ds.label, x0 + 55, y + 1);
    });
    ctx.restore();
  }
};

const page = document.getElementById('page');
const problems = [];

panelSeries.forEach((series, p) => {
  const [left, top, right, bottom, capY] = plotBoxes[p];
  const w = right - left, h = bottom - top;
  const canvas = document.createElement('canvas');
  canvas.width = w + Y_AXIS_W + RIGHT_PAD;
  canvas.height = h + TITLE_H + X_AXIS_H;
  canvas.style.left = (left - Y_AXIS_W) + 'px';
  canvas.style.top = (top - TITLE_H) + 'px';
  page.appendChild(canvas);

  series.forEach((s, k) => { if (s.length !== iters.length) problems.push(funcNames[p] + ' ' + seriesNames[k] + ' ' + s.length); });

  const labels = yTickLabels[p];
  new Chart(canvas, {
    type: 'line',
    data: {
      datasets: series.map((vals, k) => ({
        label: seriesNames[k],
        data: vals.map((v, i) => ({x: iters[i], y: v})),
        borderColor: colors[k],
        borderWidth: 1,
        pointStyle: marks[k],
        pointRadius: ctx => (ctx.raw && ctx.raw.x > 0 && ctx.raw.x % 75 === 0) ? markSize[k] : 0,
        pointHoverRadius: 0,
        pointBorderColor: colors[k],
        pointBackgroundColor: 'rgba(0,0,0,0)',
        pointBorderWidth: 1,
        tension: 0,
        fill: false,
        spanGaps: false
      }))
    },
    options: {
      responsive: false,
      animation: false,
      devicePixelRatio: 1,
      events: [],
      layout: {padding: {left: 0, right: RIGHT_PAD, top: 0, bottom: 0}},
      plugins: {
        legend: {display: false},
        tooltip: {enabled: false},
        title: {
          display: true, fullSize: false,
          text: funcNames[p] + ' 的寻优过程',
          color: '#000',
          font: {family: FONT, size: 20, weight: 'normal', lineHeight: 1},
          padding: {top: 5, bottom: 6}
        },
        mlegend: {dx: legendOffsets[p][0], dy: legendOffsets[p][1]}
      },
      scales: {
        x: {
          type: 'linear', min: 0, max: 3000,
          grid: {display: false, drawTicks: false}, border: {display: false},
          ticks: {
            stepSize: 500, autoSkip: false, maxRotation: 0, padding: 4, color: '#000',
            font: {family: FONT, size: 20},
            callback: v => xTickLabels.includes(v) ? String(v) : ''
          },
          title: {
            display: true, text: '迭代次数', color: '#000',
            font: {family: FONT, size: 20, lineHeight: 1},
            padding: {top: 0, bottom: 2}
          },
          afterFit: s => { s.height = X_AXIS_H; s.paddingLeft = 0; s.paddingRight = 0; }
        },
        y: {
          type: 'linear', min: yMins[p], max: yMaxs[p],
          grid: {display: false, drawTicks: false}, border: {display: false},
          ticks: {
            stepSize: yTickStep[p], autoSkip: false, padding: 4, color: '#000',
            font: {family: FONT, size: 20},
            callback: v => labels.includes(v) ? fmt(v) : ''
          },
          title: {
            display: true, text: '目标函数值', color: '#000',
            font: {family: FONT, size: 20, lineHeight: 1},
            padding: {top: 8, bottom: 0}
          },
          afterFit: s => { s.width = Y_AXIS_W; s.paddingTop = 0; s.paddingBottom = 0; }
        }
      }
    },
    plugins: [framePlugin, legendPlugin]
  });

  const cap = document.createElement('div');
  cap.className = 'cap';
  cap.style.left = ((left + right) / 2 - 200) + 'px';
  cap.style.top = (capY - 12) + 'px';
  cap.innerHTML = '<i>f</i><sub>' + (p + 1) + '</sub>: ' + funcNames[p];
  page.appendChild(cap);
});

if (problems.length) throw new Error('length mismatch: ' + problems.join('; '));
</script>
</body>
</html>
